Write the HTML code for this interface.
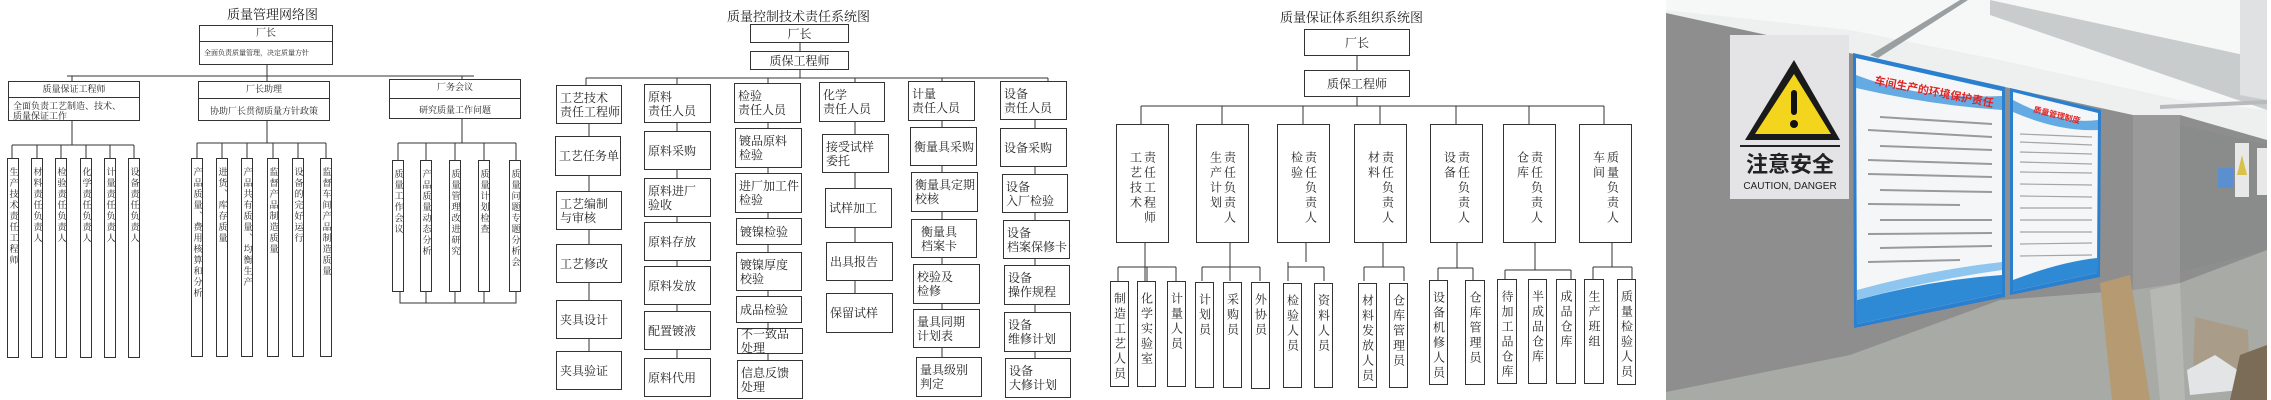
<!DOCTYPE html>
<html><head><meta charset="utf-8">
<style>
body{margin:0;width:2271px;height:400px;overflow:hidden;background:#fff;position:relative;font-family:"Liberation Serif","Noto Serif CJK SC",serif;color:#222}
svg.bg{position:absolute;left:0;top:0}
.b{position:absolute;border:1px solid #333;box-sizing:border-box;background:#fff}
.t{position:absolute;white-space:nowrap;font-size:12px}
.h{display:flex;align-items:center;font-size:12px;line-height:14px;padding-left:3px}
.c{justify-content:center;padding-left:0}
.v{writing-mode:vertical-rl;font-size:9px;line-height:11px;letter-spacing:2px;padding-top:8px;display:flex;align-items:center}
.v3{writing-mode:vertical-rl;font-size:12px;line-height:14px;letter-spacing:3px;padding-top:10px;display:flex;align-items:center}
.hd{font-size:9px;text-align:center;line-height:15px}
</style></head><body>
<svg class="bg" width="2271" height="400" stroke="#333" stroke-width="1" fill="none">
<!-- panel1 -->
<path d="M267 65V76M67 76H474M72 76V81M267 76V81M462 76V79"/>
<path d="M72 121V145M12 145H134M12 145V158M37 145V158M61 145V158M86 145V158M110 145V158M134 145V158"/>
<path d="M267 121V143M197 143H326M197 143V158M222 143V158M247 143V158M273 143V158M298 143V158M326 143V158"/>
<path d="M462 119V143M398 143H516M398 143V160M426 143V160M455 143V160M484 143V160M516 143V160"/>
<path d="M400 292V303H516V292M426 292V303M455 292V303M484 292V303"/>
<!-- panel2 -->
<path d="M800 43V51M800 70V78M586 78H1048M586 78V85M677 78V84M768 78V83M855 78V82M942 78V81M1048 78V81"/>
<path d="M589 124V351M677 123V358M768 123V360M855 122V293M942 121V357M1035 120V358"/>
<!-- panel3 -->
<path d="M1357 56V70M1357 97V106M1141 106H1604M1141 106V124M1222 106V124M1303 106V124M1380 106V124M1456 106V124M1529 106V124M1604 106V124"/>
<path d="M1145 243V281M1118 267H1176M1118 267V281M1147 267V281M1176 267V281"/>
<path d="M1230 243V281M1202 267H1260M1202 267V281M1260 267V281"/>
<path d="M1306 243V262M1288 267H1324M1288 262V281M1324 267V281M1288 267V262"/>
<path d="M1383 243V267M1364 267H1404M1364 267V281M1404 267V281"/>
<path d="M1457 243V268M1438 268H1473M1438 268V281M1473 268V281"/>
<path d="M1535 243V270M1505 270H1571M1505 270V281M1571 270V281"/>
<path d="M1612 243V267M1593 267H1632M1593 267V281M1632 267V281"/>
</svg>

<!-- PANEL 1 -->
<div class="t" style="left:227px;top:4px;font-size:13px">质量管理网络图</div>
<div class="b" style="left:199px;top:25px;width:134px;height:40px">
 <div class="hd" style="border-bottom:1px solid #333;height:15px;font-size:10px">厂长</div>
 <div style="font-size:7px;padding:6px 0 0 4px;white-space:nowrap;overflow:hidden">全面负责质量管理，决定质量方针</div>
</div>
<div class="b" style="left:8px;top:81px;width:132px;height:40px">
 <div class="hd" style="border-bottom:1px solid #333;height:15px">质量保证工程师</div>
 <div style="font-size:9px;line-height:10px;padding:3px 0 0 4px">全面负责工艺制造、技术、<br>质量保证工作</div>
</div>
<div class="b" style="left:198px;top:81px;width:132px;height:40px">
 <div class="hd" style="border-bottom:1px solid #333;height:16px">厂长助理</div>
 <div style="font-size:9px;text-align:center;padding-top:5px">协助厂长贯彻质量方针政策</div>
</div>
<div class="b" style="left:389px;top:79px;width:132px;height:40px">
 <div class="hd" style="border-bottom:1px solid #333;height:18px">厂务会议</div>
 <div style="font-size:9px;text-align:center;padding-top:4px">研究质量工作问题</div>
</div>
<div class="b v" style="left:7px;top:158px;width:12px;height:200px">生产技术责任工程师</div>
<div class="b v" style="left:31px;top:158px;width:12px;height:200px">材料责任负责人</div>
<div class="b v" style="left:55px;top:158px;width:12px;height:200px">检验责任负责人</div>
<div class="b v" style="left:80px;top:158px;width:12px;height:200px">化学责任负责人</div>
<div class="b v" style="left:104px;top:158px;width:12px;height:200px">计量责任负责人</div>
<div class="b v" style="left:128px;top:158px;width:12px;height:200px">设备责任负责人</div>
<div class="b v" style="left:191px;top:158px;width:12px;height:199px">产品质量、费用核算和分析</div>
<div class="b v" style="left:216px;top:158px;width:12px;height:199px">进货、库存质量</div>
<div class="b v" style="left:241px;top:158px;width:12px;height:199px">产品共有质量、均衡生产</div>
<div class="b v" style="left:267px;top:158px;width:12px;height:199px">监督产品制造质量</div>
<div class="b v" style="left:292px;top:158px;width:12px;height:199px">设备的完好运行</div>
<div class="b v" style="left:320px;top:158px;width:12px;height:199px">监督车间产品制造质量</div>
<div class="b v" style="left:392px;top:160px;width:12px;height:132px">质量工作会议</div>
<div class="b v" style="left:420px;top:160px;width:12px;height:132px">产品质量动态分析</div>
<div class="b v" style="left:449px;top:160px;width:12px;height:132px">质量管理改进研究</div>
<div class="b v" style="left:478px;top:160px;width:12px;height:132px">质量计划检查</div>
<div class="b v" style="left:509px;top:160px;width:12px;height:132px">质量问题专题分析会</div>

<!-- PANEL 2 -->
<div class="t" style="left:727px;top:6px;font-size:13px">质量控制技术责任系统图</div>
<div class="b h c" style="left:750px;top:24px;width:99px;height:19px">厂长</div>
<div class="b h c" style="left:750px;top:51px;width:99px;height:19px">质保工程师</div>

<div class="b h" style="left:556px;top:85px;width:66px;height:39px">工艺技术<br>责任工程师</div>
<div class="b h" style="left:555px;top:136px;width:66px;height:40px">工艺任务单</div>
<div class="b h" style="left:556px;top:191px;width:66px;height:39px">工艺编制<br>与审核</div>
<div class="b h" style="left:556px;top:244px;width:66px;height:39px">工艺修改</div>
<div class="b h" style="left:556px;top:300px;width:66px;height:39px">夹具设计</div>
<div class="b h" style="left:556px;top:351px;width:66px;height:39px">夹具验证</div>

<div class="b h" style="left:644px;top:84px;width:67px;height:39px">原料<br>责任人员</div>
<div class="b h" style="left:644px;top:131px;width:67px;height:39px">原料采购</div>
<div class="b h" style="left:644px;top:178px;width:67px;height:39px">原料进厂<br>验收</div>
<div class="b h" style="left:644px;top:222px;width:67px;height:39px">原料存放</div>
<div class="b h" style="left:644px;top:266px;width:67px;height:39px">原料发放</div>
<div class="b h" style="left:644px;top:311px;width:67px;height:39px">配置镀液</div>
<div class="b h" style="left:644px;top:358px;width:67px;height:39px">原料代用</div>

<div class="b h" style="left:734px;top:83px;width:67px;height:40px">检验<br>责任人员</div>
<div class="b h" style="left:735px;top:128px;width:67px;height:40px">镀品原料<br>检验</div>
<div class="b h" style="left:735px;top:173px;width:67px;height:40px">进厂加工件<br>检验</div>
<div class="b h" style="left:736px;top:218px;width:66px;height:27px">镀镍检验</div>
<div class="b h" style="left:736px;top:252px;width:66px;height:39px">镀镍厚度<br>校验</div>
<div class="b h" style="left:736px;top:296px;width:66px;height:27px">成品检验</div>
<div class="b h" style="left:737px;top:328px;width:66px;height:26px">不一致品<br>处理</div>
<div class="b h" style="left:737px;top:360px;width:66px;height:39px">信息反馈<br>处理</div>

<div class="b h" style="left:819px;top:82px;width:66px;height:40px">化学<br>责任人员</div>
<div class="b h" style="left:822px;top:134px;width:67px;height:39px">接受试样<br>委托</div>
<div class="b h" style="left:825px;top:188px;width:67px;height:40px">试样加工</div>
<div class="b h" style="left:826px;top:242px;width:67px;height:39px">出具报告</div>
<div class="b h" style="left:826px;top:293px;width:67px;height:40px">保留试样</div>

<div class="b h" style="left:908px;top:81px;width:67px;height:40px">计量<br>责任人员</div>
<div class="b h" style="left:910px;top:127px;width:67px;height:39px">衡量具采购</div>
<div class="b h" style="left:911px;top:172px;width:67px;height:40px">衡量具定期<br>校核</div>
<div class="b h" style="left:911px;top:219px;width:66px;height:39px">&nbsp;&nbsp;衡量具<br>&nbsp;&nbsp;档案卡</div>
<div class="b h" style="left:913px;top:264px;width:67px;height:40px">校验及<br>检修</div>
<div class="b h" style="left:913px;top:309px;width:67px;height:39px">量具同期<br>计划表</div>
<div class="b h" style="left:916px;top:357px;width:66px;height:40px">量具级别<br>判定</div>

<div class="b h" style="left:1000px;top:81px;width:67px;height:39px">设备<br>责任人员</div>
<div class="b h" style="left:1000px;top:128px;width:67px;height:39px">设备采购</div>
<div class="b h" style="left:1002px;top:174px;width:66px;height:39px">设备<br>入厂检验</div>
<div class="b h" style="left:1003px;top:220px;width:67px;height:39px">设备<br>档案保修卡</div>
<div class="b h" style="left:1004px;top:265px;width:66px;height:40px">设备<br>操作规程</div>
<div class="b h" style="left:1004px;top:312px;width:67px;height:40px">设备<br>维修计划</div>
<div class="b h" style="left:1005px;top:358px;width:66px;height:40px">设备<br>大修计划</div>

<!-- PANEL 3 -->
<div class="t" style="left:1280px;top:7px;font-size:13px">质量保证体系组织系统图</div>
<div class="b h c" style="left:1304px;top:29px;width:106px;height:27px">厂长</div>
<div class="b h c" style="left:1304px;top:70px;width:106px;height:27px">质保工程师</div>

<div class="b v3" style="left:1116px;top:124px;width:53px;height:119px;justify-content:center">责任工程师<br>工艺技术</div>
<div class="b v3" style="left:1196px;top:124px;width:53px;height:119px;justify-content:center">责任负责人<br>生产计划</div>
<div class="b v3" style="left:1277px;top:124px;width:53px;height:119px;justify-content:center">责任负责人<br>检验</div>
<div class="b v3" style="left:1354px;top:124px;width:53px;height:119px;justify-content:center">责任负责人<br>材料</div>
<div class="b v3" style="left:1430px;top:124px;width:53px;height:119px;justify-content:center">责任负责人<br>设备</div>
<div class="b v3" style="left:1503px;top:124px;width:53px;height:119px;justify-content:center">责任负责人<br>仓库</div>
<div class="b v3" style="left:1579px;top:124px;width:53px;height:119px;justify-content:center">质量负责人<br>车间</div>

<div class="b v3" style="left:1110px;top:281px;width:19px;height:106px">制造工艺人员</div>
<div class="b v3" style="left:1137px;top:281px;width:19px;height:106px">化学实验室</div>
<div class="b v3" style="left:1167px;top:281px;width:19px;height:106px">计量人员</div>
<div class="b v3" style="left:1195px;top:282px;width:19px;height:106px">计划员</div>
<div class="b v3" style="left:1223px;top:282px;width:19px;height:106px">采购员</div>
<div class="b v3" style="left:1251px;top:282px;width:19px;height:107px">外协员</div>
<div class="b v3" style="left:1283px;top:283px;width:19px;height:105px">检验人员</div>
<div class="b v3" style="left:1314px;top:283px;width:19px;height:105px">资料人员</div>
<div class="b v3" style="left:1358px;top:283px;width:19px;height:105px">材料发放人员</div>
<div class="b v3" style="left:1389px;top:283px;width:19px;height:105px">仓库管理员</div>
<div class="b v3" style="left:1429px;top:280px;width:19px;height:105px">设备机修人员</div>
<div class="b v3" style="left:1465px;top:280px;width:20px;height:105px">仓库管理员</div>
<div class="b v3" style="left:1497px;top:279px;width:20px;height:105px">待加工品仓库</div>
<div class="b v3" style="left:1528px;top:279px;width:19px;height:105px">半成品仓库</div>
<div class="b v3" style="left:1556px;top:279px;width:20px;height:105px">成品仓库</div>
<div class="b v3" style="left:1584px;top:279px;width:20px;height:105px">生产班组</div>
<div class="b v3" style="left:1617px;top:279px;width:19px;height:106px">质量检验人员</div>

<!-- PANEL 4 photo -->
<svg style="position:absolute;left:0;top:0" width="2271" height="400">
<defs><clipPath id="cp"><rect x="1666" y="0" width="601" height="400"/></clipPath></defs>
<g clip-path="url(#cp)">
<rect x="1666" y="0" width="601" height="400" fill="#eef0f0"/>
<polygon points="1666,0 2267,0 2267,110 2180,100 2000,60 1850,30 1666,10" fill="#f6f7f7"/>
<polygon points="1990,0 2267,60 2267,110 1990,15" fill="#c9cccd"/>
<polygon points="2240,0 2267,0 2267,100 2240,95" fill="#dfe1e2"/>
<polygon points="1870,55 1960,0 1968,0 1878,58" fill="#9a9fa2"/>
<polygon points="2160,105 2267,100 2267,104 2160,109" fill="#b7bbbd"/>
<polygon points="1666,13 2133,115 2180,115 2267,140 2267,400 1666,400" fill="#8e8e8e"/>
<polygon points="2133,115 2180,115 2180,290 2133,290" fill="#9a9a9a"/>
<polygon points="2180,125 2267,145 2267,250 2180,272" fill="#8a8b8b"/>
<polygon points="1666,392 1850,355 2000,300 2133,290 2180,283 2267,250 2267,400 1666,400" fill="#a8aaa5"/>
<polygon points="2150,290 2180,283 2185,400 2160,400" fill="#b6b8b3"/>
<!-- caution sign -->
<rect x="1730" y="35" width="119" height="164" fill="#e4e4e6"/>
<polygon points="1794,60 1745,140 1840,140" fill="#1a1a1a"/>
<polygon points="1794,74 1755,134 1831,134" fill="#f2d51c"/>
<rect x="1791" y="90" width="6" height="25" rx="3" fill="#111"/>
<circle cx="1794" cy="124" r="4" fill="#111"/>
<rect x="1740" y="145" width="100" height="2" fill="#222"/>
<text x="1790" y="172" text-anchor="middle" font-family="Liberation Sans,Noto Sans CJK SC,sans-serif" font-weight="bold" font-size="22" fill="#222">注意安全</text>
<text x="1790" y="189" text-anchor="middle" font-family="Liberation Sans,sans-serif" font-size="10" fill="#222">CAUTION, DANGER</text>
<!-- board 1 -->
<polygon points="1853,53 2005,87 2005,297 1854,328" fill="#2a7fcf"/>
<polygon points="1856,58 2002,91 2002,293 1857,324" fill="#f4f6f8"/>
<path d="M1856,75 Q1920,100 2002,96 L2002,110 Q1930,105 1856,88Z" fill="#3f98dc" opacity=".8"/>
<path d="M1857,300 Q1930,280 2002,275 L2002,293 L1857,324Z" fill="#2f8ad6"/>
<path d="M1857,290 Q1930,270 2002,262 L2002,270 Q1930,280 1857,300Z" fill="#8fc6ef"/>
<text x="1874" y="84" transform="rotate(11 1874 84)" font-family="Liberation Sans,Noto Sans CJK SC,sans-serif" font-weight="bold" font-size="11" fill="#e02424">车间生产的环境保护责任</text>
<g stroke="#9a9a9a" stroke-width="2">
<line x1="1880" y1="117" x2="1992" y2="124"/><line x1="1868" y1="130" x2="1992" y2="137"/>
<line x1="1880" y1="146" x2="1992" y2="150"/><line x1="1868" y1="160" x2="1992" y2="164"/>
<line x1="1868" y1="174" x2="1992" y2="177"/><line x1="1880" y1="190" x2="1992" y2="192"/>
<line x1="1868" y1="204" x2="1960" y2="205"/><line x1="1880" y1="220" x2="1992" y2="220"/>
<line x1="1868" y1="234" x2="1992" y2="233"/><line x1="1880" y1="248" x2="1992" y2="246"/>
<line x1="1868" y1="262" x2="1960" y2="260"/>
</g>
<!-- board 2 -->
<polygon points="2010,88 2101,110 2100,277 2010,295" fill="#2a7fcf"/>
<polygon points="2013,92 2098,113 2097,273 2013,291" fill="#f4f6f8"/>
<path d="M2013,100 Q2060,125 2098,120 L2098,130 Q2060,132 2013,112Z" fill="#3f98dc" opacity=".8"/>
<path d="M2013,280 Q2060,262 2097,258 L2097,273 L2013,291Z" fill="#2f8ad6"/>
<text x="2033" y="112" transform="rotate(14 2033 112)" font-family="Liberation Sans,Noto Sans CJK SC,sans-serif" font-weight="bold" font-size="8" fill="#e02424">质量管理制度</text>
<g stroke="#a5a5a5" stroke-width="1.2">
<line x1="2020" y1="134" x2="2092" y2="137"/><line x1="2020" y1="142" x2="2092" y2="145"/>
<line x1="2020" y1="152" x2="2092" y2="154"/><line x1="2020" y1="162" x2="2092" y2="164"/>
<line x1="2020" y1="172" x2="2092" y2="173"/><line x1="2020" y1="184" x2="2092" y2="185"/>
<line x1="2020" y1="196" x2="2092" y2="197"/><line x1="2020" y1="208" x2="2092" y2="208"/>
<line x1="2020" y1="220" x2="2092" y2="220"/><line x1="2020" y1="232" x2="2092" y2="232"/>
<line x1="2020" y1="244" x2="2092" y2="243"/><line x1="2020" y1="256" x2="2092" y2="255"/>
</g>
<!-- small signs -->
<rect x="2218" y="168" width="15" height="20" fill="#5c8fd0"/>
<rect x="2235" y="143" width="14" height="54" fill="#e8e8e8"/>
<polygon points="2242,155 2237,175 2247,175" fill="#d8c24a"/>
<rect x="2257" y="148" width="10" height="47" fill="#e8e8e8"/>
<!-- plank & debris -->
<polygon points="2100,283 2130,275 2150,400 2112,400" fill="#b59a72"/>
<polygon points="2195,317 2248,330 2250,390 2193,370" fill="#a99c88"/>
<polygon points="2187,370 2215,355 2245,375 2240,390 2190,395" fill="#e2e4e6"/>
<polygon points="2240,355 2267,345 2267,400 2230,400" fill="#7b6c58"/>
</g>
</svg>
</body></html>
